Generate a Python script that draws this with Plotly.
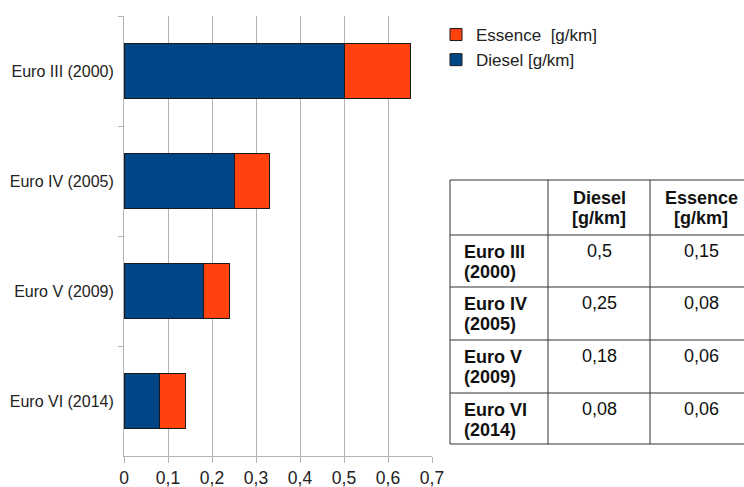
import plotly.graph_objects as go

categories = ["Euro III (2000)", "Euro IV (2005)", "Euro V (2009)", "Euro VI (2014)"]
table_rows = ["Euro III<br>(2000)", "Euro IV<br>(2005)", "Euro V<br>(2009)", "Euro VI<br>(2014)"]
table_header = ["", "Diesel<br>[g/km]", "Essence<br>[g/km]"]
diesel = [0.5, 0.25, 0.18, 0.08]
essence = [0.15, 0.08, 0.06, 0.06]

def fr(v):
    return str(v).replace(".", ",")

FONT = "Liberation Sans, Arial, sans-serif"
W, H = 744, 487

fig = go.Figure()
fig.add_trace(go.Bar(
    y=categories, x=diesel, orientation="h", name="Diesel [g/km]",
    marker=dict(color="#004586", line=dict(color="#1a1a1a", width=1)),
    xaxis="x", yaxis="y"))
fig.add_trace(go.Bar(
    y=categories, x=essence, orientation="h", name="Essence  [g/km]",
    marker=dict(color="#ff420e", line=dict(color="#1a1a1a", width=1)),
    xaxis="x", yaxis="y"))

# ---- table drawn as layout shapes + annotations (pixel helpers) ----
def px(x):
    return x / W

def py(y):
    return 1 - y / H

col_edges = [450, 548, 650]
col_centers = [462, 599, 701]
col_align = ["left", "center", "center"]
row_edges = [180, 235, 287, 340, 393, 444]
line_col = "#333333"

shapes = []
for y in row_edges:
    shapes.append(dict(type="line", xref="paper", yref="paper",
                       x0=px(450), x1=px(760), y0=py(y), y1=py(y),
                       line=dict(color=line_col, width=1)))
for x in col_edges:
    shapes.append(dict(type="line", xref="paper", yref="paper",
                       x0=px(x), x1=px(x), y0=py(row_edges[0]), y1=py(row_edges[-1]),
                       line=dict(color=line_col, width=1)))

annotations = []

def cell_text(text, col, top, first_off, bold):
    lines = text.split("<br>")
    for i, ln in enumerate(lines):
        if not ln:
            continue
        t = "<b>" + ln + "</b>" if bold else ln
        annotations.append(dict(
            xref="paper", yref="paper", x=px(col_centers[col]), y=py(top + first_off + 20 * i),
            text=t, showarrow=False, xanchor=col_align[col], yanchor="middle",
            font=dict(family=FONT, size=18, color="#111111")))

for c, h in enumerate(table_header):
    cell_text(h, c, row_edges[0], 18, True)
for r in range(len(table_rows)):
    top = row_edges[r + 1]
    cell_text(table_rows[r], 0, top, 17, True)
    cell_text(fr(diesel[r]), 1, top, 16, False)
    cell_text(fr(essence[r]), 2, top, 16, False)

fig.update_layout(
    width=W, height=H,
    barmode="stack", bargap=0.5,
    separators=",.",
    paper_bgcolor="white", plot_bgcolor="white",
    margin=dict(l=0, r=0, t=0, b=0, autoexpand=False),
    font=dict(family=FONT, size=16, color="#222222"),
    legend=dict(x=436 / W, y=1 - 17 / H, xanchor="left", yanchor="top",
                traceorder="reversed", font=dict(size=17, color="#222222"),
                bgcolor="rgba(0,0,0,0)", itemwidth=30, tracegroupgap=0),
    showlegend=True,
    shapes=shapes,
    annotations=annotations,
    xaxis=dict(domain=[124 / W, 432 / W], range=[0, 0.7], dtick=0.1,
               showgrid=True, gridcolor="#b3b3b3", gridwidth=1, zeroline=False,
               showline=True, linecolor="#b3b3b3", automargin=False,
               ticks="outside", ticklen=6, tickcolor="#b3b3b3",
               tickfont=dict(size=17.5, color="#222222"), fixedrange=True),
    yaxis=dict(domain=[1 - 456 / H, 1 - 16 / H], autorange="reversed",
               showline=True, linecolor="#b3b3b3", automargin=False,
               ticks="outside", tickson="boundaries", ticklen=5, tickcolor="#b3b3b3",
               ticklabelstandoff=6,
               showgrid=False, tickfont=dict(size=16, color="#222222"), fixedrange=True),
)

fig.write_html("out.html", config={"displayModeBar": False},
               post_script="document.body.style.margin='0';")
